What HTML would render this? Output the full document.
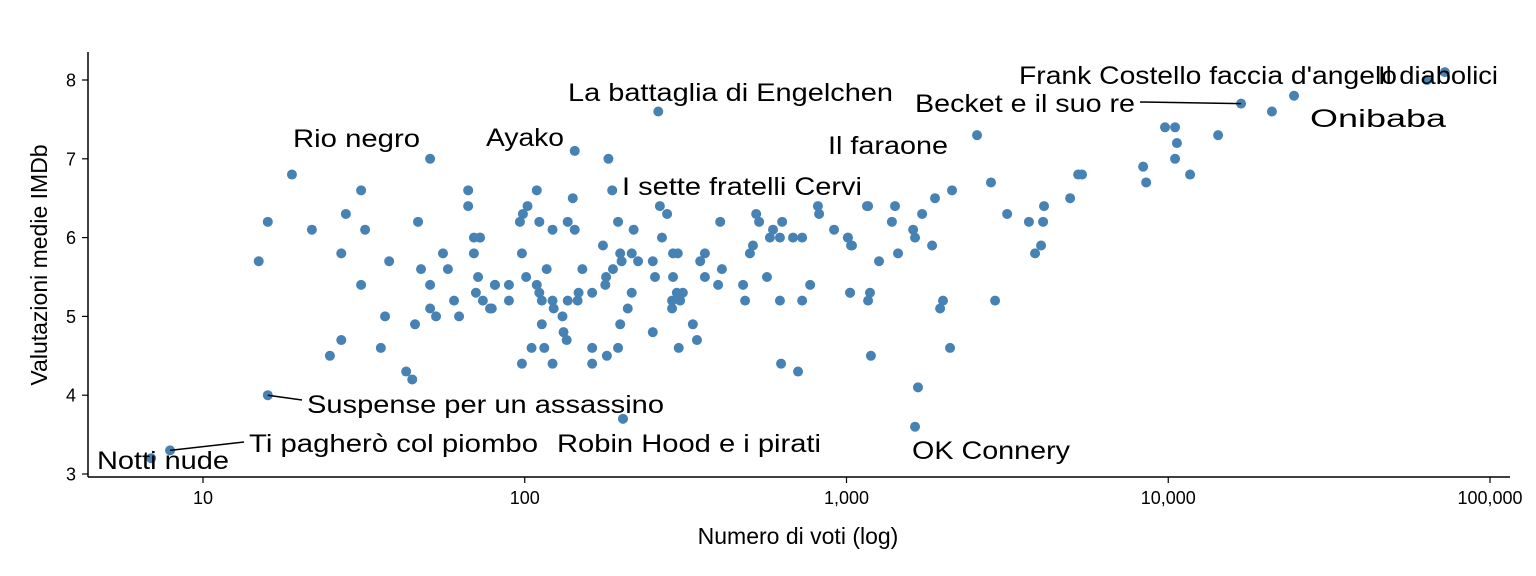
<!DOCTYPE html>
<html><head><meta charset="utf-8">
<style>
html,body{margin:0;padding:0;background:#fff;}
svg{display:block;font-family:"Liberation Sans",Arial,sans-serif;}
</style></head>
<body>
<svg id="chart" width="1536" height="576" viewBox="0 0 1536 576" xmlns="http://www.w3.org/2000/svg">
<rect x="0" y="0" width="1536" height="576" fill="#fff"/>
<g id="points"></g>
<g id="axes"></g>
<g id="labels"></g>
</svg>
<script>
const votes = [6.9,7.9,14.9,15.9,15.9,18.9,21.8,24.8,26.9,26.9,27.8,31,31.9,31,35.7,36.8,37.9,42.8,44.7,45.6,46.6,47.6,50.8,50.8,50.8,53,55.7,57.7,60.3,62.5,66.7,66.7,69.5,69.5,70.5,71.6,72.6,74.1,79,80.8,
143,182,109,187,141,102,98.7,96.6,111,122,136,143,263,277,195,218,405,72.6,175,267,98,198,215,289,299,200,225,188,250,117,151,179,101,254,289,80.8,89.3,109,178,111,162,147,215,89.3,78,113,122,136,146,123,131,209,113,198,132,135,250,105,115,162,195,180,98,122,162,202,
351,363,410,363,399,297,310,287,304,287,333,343,301,477,484,566,621,728,771,1026,524,535,631,591,578,621,682,728,512,501,815,822,915,1010,1033,626,707,260,
2545,16840,21000,24600,9772,10500,10640,14290,10500,8356,8539,11690,5248,5395,4955,4111,4083,3690,4025,3855,3157,2812,2896,2128,1884,1718,1611,1633,1845,1446,1262,1415,1384,1158,1167,1010,1040,1026,1183,1167,1995,1954,1191,2098,1668,1633,63700,72400];
const ratings = [3.2,3.3,5.7,6.2,4.0,6.8,6.1,4.5,5.8,4.7,6.3,6.6,6.1,5.4,4.6,5.0,5.7,4.3,4.2,4.9,6.2,5.6,7.0,5.4,5.1,5.0,5.8,5.6,5.2,5.0,6.6,6.4,6.0,5.8,5.3,5.5,6.0,5.2,5.1,5.4,
7.1,7.0,6.6,6.6,6.5,6.4,6.3,6.2,6.2,6.1,6.2,6.1,6.4,6.3,6.2,6.1,6.2,6.0,5.9,6.0,5.8,5.8,5.8,5.8,5.8,5.7,5.7,5.6,5.7,5.6,5.6,5.5,5.5,5.5,5.5,5.4,5.4,5.4,5.4,5.3,5.3,5.3,5.3,5.2,5.1,5.2,5.2,5.2,5.2,5.1,5.0,5.1,4.9,4.9,4.8,4.7,4.8,4.6,4.6,4.6,4.6,4.5,4.4,4.4,4.4,3.7,
5.7,5.8,5.6,5.5,5.4,5.3,5.3,5.2,5.2,5.1,4.9,4.7,4.6,5.4,5.2,5.5,5.2,5.2,5.4,5.3,6.3,6.2,6.2,6.1,6.0,6.0,6.0,6.0,5.9,5.8,6.4,6.3,6.1,6.0,5.9,4.4,4.3,7.6,
7.3,7.7,7.6,7.8,7.4,7.4,7.2,7.3,7.0,6.9,6.7,6.8,6.8,6.8,6.5,6.4,6.2,6.2,5.9,5.8,6.3,6.7,5.2,6.6,6.5,6.3,6.1,6.0,5.9,5.8,5.7,6.4,6.2,6.4,6.4,6.0,5.9,5.3,5.3,5.2,5.2,5.1,4.5,4.6,4.1,3.6,8.0,8.1];
const xTicks = [10,100,1000,10000,100000];
const xTickLabels = ["10","100","1,000","10,000","100,000"];
const yTicks = [3,4,5,6,7,8];
const annotations = [
 {t:"La battaglia di Engelchen",v:260,r:7.6,tx:568,ty:101,w:325,line:false},
 {t:"Frank Costello faccia d'angelo",v:63700,r:8.0,tx:1019,ty:84,w:378,line:false},
 {t:"Il diabolici",v:72400,r:8.1,tx:1378,ty:84,w:120,line:false},
 {t:"Becket e il suo re",v:16840,r:7.7,tx:915,ty:112,w:220,line:true,lx:1140,ly:102},
 {t:"Onibaba",v:24600,r:7.8,tx:1310,ty:127,w:136,line:false},
 {t:"Rio negro",v:50.8,r:7.0,tx:293,ty:147,w:127,line:false},
 {t:"Ayako",v:143,r:7.1,tx:486,ty:146,w:78,line:false},
 {t:"Il faraone",v:2545,r:7.3,tx:828,ty:154,w:120,line:false},
 {t:"I sette fratelli Cervi",v:187,r:6.6,tx:622,ty:195,w:240,line:false},
 {t:"Suspense per un assassino",v:15.9,r:4.0,tx:307,ty:413,w:357,line:true,lx:302,ly:400},
 {t:"Ti pagherò col piombo",v:7.9,r:3.3,tx:249,ty:452,w:289,line:true,lx:244,ly:442},
 {t:"Notti nude",v:6.9,r:3.2,tx:97,ty:469,w:132,line:false},
 {t:"Robin Hood e i pirati",v:202,r:3.7,tx:557,ty:452,w:264,line:false},
 {t:"OK Connery",v:1668,r:3.6,tx:912,ty:459,w:158,line:false}
];
const NS="http://www.w3.org/2000/svg";
function xs(v){return 203+(Math.log10(v)-1)*321.75;}
function ys(r){return 80+(8-r)*78.8;}
function mk(tag,attrs,parent){const e=document.createElementNS(NS,tag);for(const k in attrs)e.setAttribute(k,attrs[k]);parent.appendChild(e);return e;}
const P=document.getElementById('points'),A=document.getElementById('axes'),L=document.getElementById('labels');
for(let i=0;i<votes.length;i++){
 const c=mk('circle',{cx:xs(votes[i]),cy:ys(ratings[i]),r:5,fill:'#4682B4'},P);
 
 
}
let ax=mk('line',{x1:88,y1:52,x2:88,y2:477,stroke:'#000','stroke-width':1.5},A);


ax=mk('line',{x1:88,y1:477,x2:1510,y2:477,stroke:'#000','stroke-width':1.5},A);


yTicks.forEach(t=>{
 const y=ys(t);
 const tk=mk('line',{x1:82,y1:y,x2:88,y2:y,stroke:'#000','stroke-width':1.2},A);
 
 
 const tl=mk('text',{x:76,y:y+6.5,'text-anchor':'end','font-size':18,fill:'#000'},A);
 tl.textContent=String(t);
 
 
});
xTicks.forEach((t,i)=>{
 const x=xs(t);
 const tk=mk('line',{x1:x,y1:477,x2:x,y2:483,stroke:'#000','stroke-width':1.2},A);
 
 
 const tl=mk('text',{x:x,y:504,'text-anchor':'middle','font-size':18,fill:'#000'},A);
 tl.textContent=xTickLabels[i];
 
 
});
let tt=mk('text',{x:798,y:544,'text-anchor':'middle','font-size':23,fill:'#000'},A);
tt.textContent='Numero di voti (log)';


tt=mk('text',{x:0,y:0,'text-anchor':'middle','font-size':23,fill:'#000',transform:'translate(47,265) rotate(-90)'},A);
tt.textContent='Valutazioni medie IMDb';


annotations.forEach(a=>{
 if(a.line){
  const ln=mk('line',{x1:xs(a.v),y1:ys(a.r),x2:a.lx,y2:a.ly,stroke:'#000','stroke-width':1.5},L);
  
  
 }
 const t=mk('text',{x:a.tx,y:a.ty,'font-size':25,fill:'#000',textLength:a.w,lengthAdjust:'spacingAndGlyphs'},L);
 t.textContent=a.t;
 
 
});
</script>
</body></html>
